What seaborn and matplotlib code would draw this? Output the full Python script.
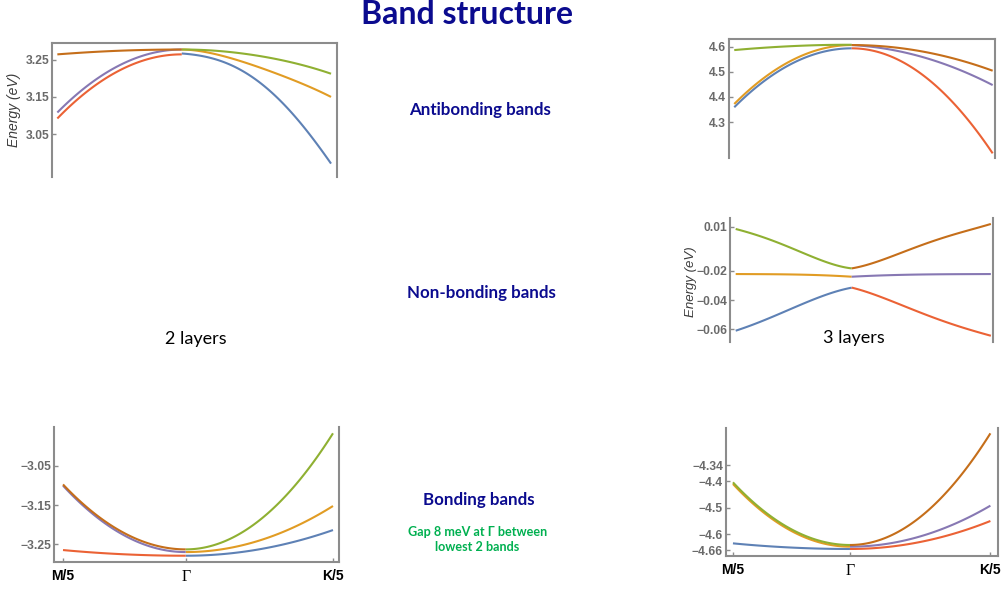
import warnings
import numpy as np
import pandas as pd
import matplotlib
matplotlib.use("Agg")
import matplotlib.pyplot as plt
import seaborn as sns

warnings.filterwarnings("ignore")
sns.set_theme(style="white")
plt.rcParams['font.family'] = ['Liberation Sans', 'DejaVu Sans']

# ---------------- data ----------------
k_left = [-1.0, -0.875, -0.75, -0.625, -0.5, -0.375, -0.25, -0.125, 0.0]
k_right = [0.0, 0.15, 0.3, 0.45, 0.6, 0.75, 0.9, 1.05, 1.2]
k_ticks = [-1.0, 0.0, 1.2]
k_labels = ["M/5", "Γ", "K/5"]

# 2 layers, antibonding (top left)
ab2_blue = [3.266, 3.2614, 3.2476, 3.2245, 3.1970, 3.1540, 3.1000, 3.0401, 2.971]
ab2_yellow = [3.277, 3.273, 3.262, 3.248, 3.232, 3.214, 3.195, 3.173, 3.150]
ab2_green = [3.277, 3.276, 3.273, 3.268, 3.261, 3.252, 3.241, 3.228, 3.212]
ab2_red = [3.092, 3.1323, 3.1673, 3.1968, 3.221, 3.2398, 3.2533, 3.2613, 3.264]
ab2_purple = [3.108, 3.1476, 3.1819, 3.211, 3.2348, 3.2532, 3.2664, 3.2744, 3.277]
ab2_brown = [3.264, 3.267, 3.2697, 3.2719, 3.2738, 3.2752, 3.2762, 3.2768, 3.277]
ab2_yticks = [3.05, 3.15, 3.25]

# 3 layers, antibonding (top right)
ab3_blue = [4.359, 4.4139, 4.4614, 4.5016, 4.5345, 4.5601, 4.5784, 4.5893, 4.593]
ab3_yellow = [4.372, 4.4269, 4.4744, 4.5146, 4.5475, 4.5731, 4.5914, 4.6023, 4.606]
ab3_green = [4.586, 4.591, 4.595, 4.599, 4.602, 4.604, 4.606, 4.607, 4.607]
ab3_red = [4.593, 4.5865, 4.5669, 4.5344, 4.4887, 4.4301, 4.3584, 4.2737, 4.176]
ab3_purple = [4.606, 4.6002, 4.5904, 4.5766, 4.5588, 4.5369, 4.5109, 4.481, 4.447]
ab3_brown = [4.606, 4.6044, 4.5996, 4.5917, 4.5805, 4.5662, 4.5486, 4.5279, 4.504]
ab3_yticks = [4.3, 4.4, 4.5, 4.6]

# 3 layers, non-bonding (middle right)
nb3_blue = [-0.0609, -0.0575, -0.0536, -0.0495, -0.0452, -0.0411, -0.0373, -0.0339, -0.0316]
nb3_yellow = [-0.0223, -0.0223, -0.0224, -0.0225, -0.0226, -0.0228, -0.0231, -0.0236, -0.0241]
nb3_green = [0.0084, 0.0057, 0.0025, -0.0014, -0.0052, -0.0093, -0.0132, -0.0166, -0.0184]
nb3_red = [-0.0316, -0.0348, -0.0395, -0.0443, -0.0486, -0.0532, -0.0573, -0.0611, -0.0643]
nb3_purple = [-0.0241, -0.0236, -0.0231, -0.0228, -0.0226, -0.0225, -0.0224, -0.0223, -0.0223]
nb3_brown = [-0.0184, -0.0157, -0.0116, -0.0070, -0.0027, 0.0014, 0.0050, 0.0086, 0.0118]
nb3_yticks = [-0.06, -0.04, -0.02, 0.01]

# 2 layers, bonding (bottom left)
b2_blue = [-3.2788, -3.2778, -3.2747, -3.2696, -3.2625, -3.2533, -3.2421, -3.2289, -3.2136]
b2_yellow = [-3.2695, -3.2677, -3.2622, -3.253, -3.2402, -3.2238, -3.2037, -3.1799, -3.1525]
b2_green = [-3.2627, -3.2581, -3.2443, -3.2212, -3.189, -3.1475, -3.0968, -3.0369, -2.9678]
b2_red = [-3.2644, -3.2678, -3.2707, -3.2732, -3.2752, -3.2768, -3.2779, -3.2786, -3.2788]
b2_purple = [-3.1008, -3.1403, -3.1746, -3.2036, -3.2273, -3.2458, -3.259, -3.2669, -3.2695]
b2_brown = [-3.0977, -3.1364, -3.1699, -3.1983, -3.2214, -3.2395, -3.2524, -3.2601, -3.2627]
b2_yticks = [-3.25, -3.15, -3.05]

# 3 layers, bonding (bottom right)
b3_blue = [-4.6348, -4.6398, -4.6441, -4.6477, -4.6507, -4.653, -4.6547, -4.6557, -4.656]
b3_yellow = [-4.411, -4.4664, -4.5144, -4.555, -4.5882, -4.6141, -4.6325, -4.6436, -4.6473]
b3_green = [-4.4047, -4.4601, -4.5081, -4.5487, -4.5819, -4.6078, -4.6262, -4.6373, -4.641]
b3_red = [-4.656, -4.6544, -4.6494, -4.6412, -4.6296, -4.6148, -4.5967, -4.5752, -4.5505]
b3_purple = [-4.6473, -4.6449, -4.6376, -4.6256, -4.6086, -4.5869, -4.5603, -4.5289, -4.4927]
b3_brown = [-4.641, -4.6344, -4.6147, -4.5818, -4.5357, -4.4766, -4.4042, -4.3187, -4.22]
b3_yticks = [-4.66, -4.6, -4.5, -4.4, -4.34]

# ---------------- styling ----------------
names = ["blue", "yellow", "green", "red", "purple", "brown"]
palette = {"blue": "#5E81B5", "yellow": "#E19C24", "green": "#8FB032",
           "red": "#EB6235", "purple": "#8778B3", "brown": "#C56E1A"}
frame_col = "#8c8c8c"
tick_col = "#6a6a6a"
navy = "#0b0b8f"
green_txt = "#00B050"

W, H = 1001, 589
fig = plt.figure(figsize=(W / 100, H / 100), dpi=100)


def add_ax(l, r, t, b):
    return fig.add_axes([l / W, 1 - b / H, (r - l) / W, (b - t) / H])


def fmt(v):
    s = ("%g" % v)
    return s.replace("-", "\u2212")


def draw_panel(ax, curves, sides, xlim, ylim, yticks, spines, xt=False):
    for name, vals, side in zip(names, curves, sides):
        ks = k_left if side == "L" else k_right
        df = pd.DataFrame({"k": ks, "E": vals})
        # smooth curve through the read points (polynomial fit by seaborn)
        sns.regplot(data=df, x="k", y="E", order=4, ci=None, scatter=False,
                    truncate=True, ax=ax,
                    line_kws=dict(color=palette[name], linewidth=1.5,
                                  solid_capstyle="butt"))
    ax.set_xlim(*xlim)
    ax.set_ylim(*ylim)
    ax.patch.set_alpha(0)
    for s in ["left", "right", "top", "bottom"]:
        ax.spines[s].set_visible(s in spines)
        ax.spines[s].set_color(frame_col)
        ax.spines[s].set_linewidth(1.5)
    ax.set_yticks(yticks, [fmt(v) for v in yticks], fontweight="bold",
                  fontsize=8.7, color=tick_col)
    ax.tick_params(axis="y", direction="in", length=3, width=1,
                   color=frame_col, pad=2, left=True, right=False)
    if xt:
        ax.set_xticks(k_ticks, k_labels, fontweight="bold", fontsize=10,
                      color="black")
        lbls = ax.get_xticklabels()
        lbls[1].set_fontfamily(["Liberation Serif", "DejaVu Serif"])
        lbls[1].set_fontweight("normal")
        lbls[1].set_fontsize(11.5)
        ax.tick_params(axis="x", direction="in", length=3, width=1,
                       color=frame_col, pad=5, bottom=True)
    else:
        ax.set_xticks([])
    ax.set_xlabel("")
    ax.set_ylabel("")


# panel A: 2 layers antibonding
axA = add_ax(52, 337, 43, 177)
draw_panel(axA, [ab2_blue, ab2_yellow, ab2_green, ab2_red, ab2_purple, ab2_brown],
           ["R", "R", "R", "L", "L", "L"], (-1.043, 1.248), (2.935, 3.2945),
           ab2_yticks, ["left", "right", "top"])
axA.set_ylabel("Energy (eV)", fontstyle="italic", fontsize=10, color="#3c3c3c")
axA.yaxis.set_label_coords(-0.109, 0.5)

# panel B: 3 layers antibonding
axB = add_ax(728.5, 995, 39, 158)
draw_panel(axB, [ab3_blue, ab3_yellow, ab3_green, ab3_red, ab3_purple, ab3_brown],
           ["L", "L", "L", "R", "R", "R"], (-1.049, 1.22), (4.1575, 4.630),
           ab3_yticks, ["left", "right", "top"])

# panel C: 3 layers non-bonding
axC = add_ax(730, 993.3, 218, 341.7)
draw_panel(axC, [nb3_blue, nb3_yellow, nb3_green, nb3_red, nb3_purple, nb3_brown],
           ["L", "L", "L", "R", "R", "R"], (-1.049, 1.221), (-0.0684, 0.0159),
           nb3_yticks, ["left", "right"])
axC.set_ylabel("Energy (eV)", fontstyle="italic", fontsize=9.5, color="#3c3c3c")
axC.yaxis.set_label_coords(-0.125, 0.485)

# panel D: 2 layers bonding
axD = add_ax(54.3, 339, 426.7, 561.7)
draw_panel(axD, [b2_blue, b2_yellow, b2_green, b2_red, b2_purple, b2_brown],
           ["R", "R", "R", "L", "L", "L"], (-1.071, 1.249), (-3.294, -2.951),
           b2_yticks, ["left", "right", "bottom"], xt=True)

# panel E: 3 layers bonding
axE = add_ax(725.7, 998, 428.3, 556)
draw_panel(axE, [b3_blue, b3_yellow, b3_green, b3_red, b3_purple, b3_brown],
           ["L", "L", "L", "R", "R", "R"], (-1.062, 1.265), (-4.6825, -4.201),
           b3_yticks, ["left", "right", "bottom"], xt=True)

# ---------------- slide texts ----------------
def ftext(x, y, s, **kw):
    fig.text(x / W, 1 - y / H, s, ha="center", va="center", **kw)

lato = ["Lato", "DejaVu Sans"]
ftext(467, 14, "Band structure", fontsize=23, fontweight="bold", color=navy, family=lato)
ftext(480, 110, "Antibonding bands", fontsize=12.2, fontweight="bold", color=navy, family=lato)
ftext(481, 293, "Non-bonding bands", fontsize=12.2, fontweight="bold", color=navy, family=lato)
ftext(479, 500, "Bonding bands", fontsize=12.2, fontweight="bold", color=navy, family=lato)
ftext(477.5, 531.5, "Gap 8 meV at Γ between", fontsize=9.1, fontweight="bold",
      color=green_txt, family=["Lato", "Liberation Serif", "DejaVu Sans"])
ftext(477, 547, "lowest 2 bands", fontsize=9.1, fontweight="bold", color=green_txt, family=lato)
ftext(196, 339, "2 layers", fontsize=13, color="black", family=lato)
ftext(854, 338, "3 layers", fontsize=13, color="black", family=lato)

fig.savefig("out.png", dpi=100)
